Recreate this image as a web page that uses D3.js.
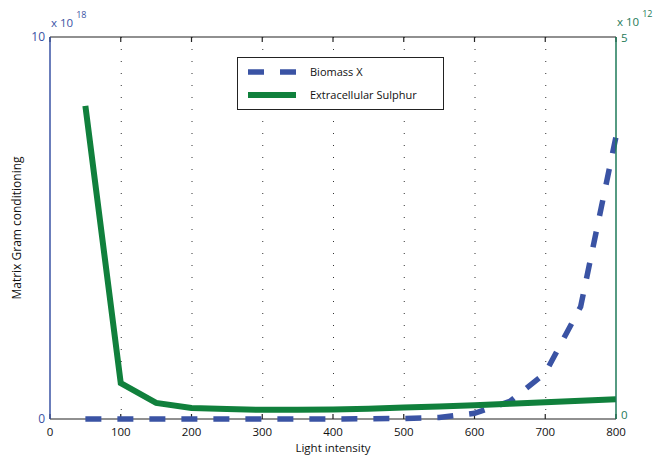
<!DOCTYPE html>
<html><head><meta charset="utf-8">
<script src="https://cdn.jsdelivr.net/npm/d3@7"></script>
<style>
body{margin:0;background:#fff;}
text{font-family:"Open Sans","DejaVu Sans",sans-serif;}
</style></head>
<body><svg id="c" width="653" height="455"></svg>
<script>
const xValues = [50,100,150,200,250,300,350,400,450,500,550,600,650,700,750,800];
const biomassX = [0,0,0,0,0,0,0,0,0.005,0.015,0.04,0.15,0.46,1.2,2.94,7.39]; // x10^18
const sulphur = [4.10,0.47,0.21,0.145,0.13,0.12,0.12,0.125,0.135,0.15,0.165,0.18,0.2,0.22,0.24,0.26]; // x10^12
const xTicks = [0,100,200,300,400,500,600,700,800];
const seriesNames = ["Biomass X","Extracellular Sulphur"];

const blue = "#3a53a4", green = "#10803c", rightAxisColor = "#1e7a58";
const svg = d3.select("#c");
const L = 50, R = 616, T = 37, B = 419;
const x = d3.scaleLinear().domain([0,800]).range([L,R]);
const yL = d3.scaleLinear().domain([0,10]).range([B,T]);
const yR = d3.scaleLinear().domain([0,5]).range([B,T]);

// grid
svg.append("g").selectAll("line").data(xTicks.slice(1,-1)).join("line")
  .attr("x1",d=>x(d)+0.5).attr("x2",d=>x(d)+0.5).attr("y1",T).attr("y2",B)
  .attr("stroke","#333").attr("stroke-width",1).attr("stroke-dasharray","1,11");

// top/bottom axes lines
svg.append("line").attr("x1",L).attr("x2",R).attr("y1",T).attr("y2",T).attr("stroke","#222").attr("stroke-width",1.2);
svg.append("line").attr("x1",L).attr("x2",R).attr("y1",B).attr("y2",B).attr("stroke","#222").attr("stroke-width",1.2);
// ticks
svg.append("g").selectAll("line").data(xTicks).join("line")
  .attr("x1",d=>x(d)).attr("x2",d=>x(d)).attr("y1",B).attr("y2",B-5).attr("stroke","#222").attr("stroke-width",1.2);
svg.append("g").selectAll("line").data(xTicks).join("line")
  .attr("x1",d=>x(d)).attr("x2",d=>x(d)).attr("y1",T).attr("y2",T+5).attr("stroke","#222").attr("stroke-width",1.2);
svg.append("g").selectAll("text").data(xTicks).join("text")
  .attr("x",d=>x(d)).attr("y",B+16.5).attr("text-anchor","middle")
  .attr("font-size",11.5).attr("fill","#111").text(d=>d);

// series
const lineB = d3.line().x((d,i)=>x(xValues[i])).y(d=>yL(d));
const lineG = d3.line().x((d,i)=>x(xValues[i])).y(d=>yR(d));
svg.append("path").datum(biomassX).attr("d",lineB).attr("fill","none")
  .attr("stroke",blue).attr("stroke-width",5.5).attr("stroke-dasharray","16,16");
svg.append("path").datum(sulphur).attr("d",lineG).attr("fill","none")
  .attr("stroke",green).attr("stroke-width",6).attr("stroke-linejoin","miter");

// left axis
svg.append("line").attr("x1",L).attr("x2",L).attr("y1",T).attr("y2",B).attr("stroke",blue).attr("stroke-width",1.5);
svg.append("g").selectAll("text").data(yL.domain()).join("text")
  .attr("x",L-5).attr("y",d=>yL(d)+4).attr("text-anchor","end")
  .attr("font-size",12).attr("fill",blue).text(d=>d);
const lx = svg.append("text").attr("x",L+1).attr("y",T-10).attr("font-size",11.5).attr("fill",blue);
lx.append("tspan").text("x 10");
lx.append("tspan").attr("dy",-9).attr("dx",3).attr("font-size",9).text("18");

// right axis
svg.append("line").attr("x1",R).attr("x2",R).attr("y1",T).attr("y2",B).attr("stroke",rightAxisColor).attr("stroke-width",1.5);
svg.append("g").selectAll("text").data(yR.domain()).join("text")
  .attr("x",R+5).attr("y",d=>yR(d)+(d===0?0:5)).attr("text-anchor","start")
  .attr("font-size",11.5).attr("fill",rightAxisColor).text(d=>d);
const rx = svg.append("text").attr("x",R+1).attr("y",T-11).attr("font-size",11.5).attr("fill",rightAxisColor);
rx.append("tspan").text("x 10");
rx.append("tspan").attr("dy",-9).attr("dx",3).attr("font-size",9).text("12");

// axis titles
svg.append("text").attr("x",(L+R)/2).attr("y",B+32.5).attr("text-anchor","middle")
  .attr("font-size",11.5).attr("fill","#111").text("Light intensity");
svg.append("text").attr("transform",`translate(21,${(T+B)/2}) rotate(-90)`).attr("text-anchor","middle")
  .attr("font-size",12).attr("fill","#111").text("Matrix Gram conditioning");

// legend
const lg = svg.append("g");
lg.append("rect").attr("x",237.5).attr("y",57.5).attr("width",206).attr("height",52)
  .attr("fill","#fff").attr("stroke","#222").attr("stroke-width",1);
const legendRows = [{c:blue,dash:"16,16",w:5.5},{c:green,dash:null,w:6}];
legendRows.forEach((r,i)=>{
  const yy = 72 + i*23;
  lg.append("line").attr("x1",248).attr("x2",296).attr("y1",yy).attr("y2",yy)
    .attr("stroke",r.c).attr("stroke-width",r.w).attr("stroke-dasharray",r.dash);
  lg.append("text").attr("x",310).attr("y",yy+4).attr("font-size",11).attr("fill","#111").text(seriesNames[i]);
});
</script></body></html>
